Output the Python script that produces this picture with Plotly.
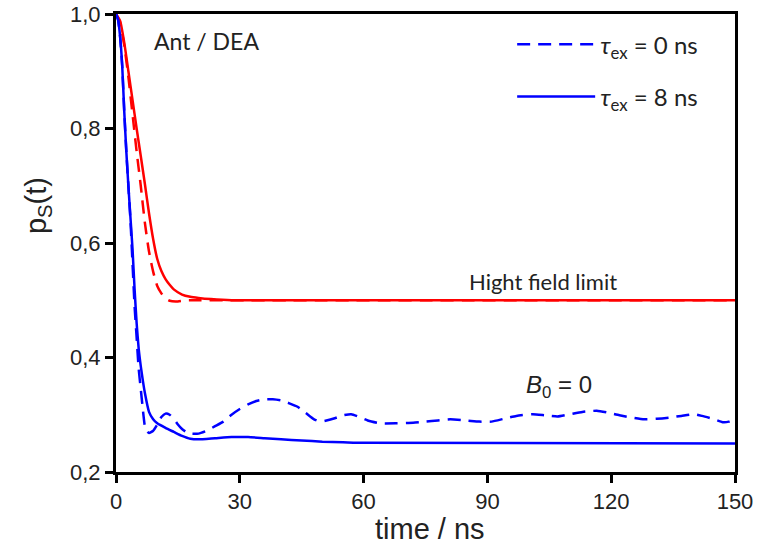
import plotly.graph_objects as go

# ---- data ----
t_red_solid = [0, 1, 2, 3, 4, 5, 6, 7, 8, 9, 10, 11, 12, 13, 14, 16, 18, 20, 23, 28, 150]
p_red_solid = [1.0, 0.988, 0.95, 0.9, 0.85, 0.8, 0.752, 0.703, 0.652, 0.607, 0.572, 0.551, 0.537, 0.527, 0.519, 0.51, 0.506, 0.504, 0.502, 0.5, 0.5]

t_red_dash = [0, 1, 2, 3, 4, 5, 6, 7, 8, 9, 10, 11, 12, 13, 15, 17, 20, 150]
p_red_dash = [1.0, 0.985, 0.945, 0.89, 0.825, 0.76, 0.7, 0.635, 0.585, 0.55, 0.525, 0.512, 0.503, 0.499, 0.498, 0.5, 0.5, 0.5]

t_blue_solid = [0, 0.5, 1, 1.5, 2, 2.5, 3, 3.5, 4, 4.5, 5, 5.5, 6, 6.5, 7, 8, 9, 10, 12, 14, 16, 18, 20,
                24, 28, 32, 36, 40, 45, 50, 55, 60, 150]
p_blue_solid = [1.0, 0.99, 0.96, 0.91, 0.83, 0.76, 0.70, 0.645, 0.59, 0.52, 0.46, 0.415, 0.385, 0.36, 0.338,
                0.305, 0.292, 0.285, 0.277, 0.27, 0.263, 0.258, 0.257, 0.259, 0.261, 0.261, 0.259, 0.257,
                0.255, 0.253, 0.252, 0.251, 0.25]

t_blue_dash = [0, 0.5, 1, 1.5, 2, 2.5, 3, 3.5, 4, 4.5, 5, 5.5, 6, 6.5, 7, 7.5, 8, 9, 10, 11, 12, 13, 14, 15,
               16, 17, 18, 20, 22, 24, 26, 28, 30, 32, 34, 36, 38, 40, 42, 44, 46, 48, 49.5, 51, 53, 55,
               57, 59, 61, 64, 68, 72, 75, 78, 81, 85, 88, 91, 94, 97, 101, 104, 107, 110, 113, 116.5,
               119, 122, 125, 128, 131, 134, 137, 140, 142, 145, 147, 148.5, 150]
p_blue_dash = [1.0, 0.99, 0.96, 0.91, 0.83, 0.76, 0.70, 0.64, 0.565, 0.49, 0.435, 0.38, 0.345, 0.31, 0.28,
               0.271, 0.268, 0.272, 0.283, 0.296, 0.302, 0.3, 0.293, 0.283, 0.275, 0.27, 0.267, 0.267,
               0.272, 0.28, 0.288, 0.3, 0.31, 0.318, 0.324, 0.327, 0.327, 0.325, 0.32, 0.314, 0.303,
               0.292, 0.288, 0.29, 0.294, 0.299, 0.301, 0.296, 0.29, 0.285, 0.285, 0.286, 0.288, 0.29,
               0.292, 0.29, 0.288, 0.288, 0.293, 0.298, 0.301, 0.299, 0.297, 0.301, 0.305, 0.307, 0.304,
               0.299, 0.295, 0.292, 0.293, 0.295, 0.298, 0.301, 0.298, 0.292, 0.287, 0.288, 0.293]

x_ticks = [0, 30, 60, 90, 120, 150]
y_ticks = [0.2, 0.4, 0.6, 0.8, 1.0]
y_tick_text = ["0,2", "0,4", "0,6", "0,8", "1,0"]

RED = "#ff0000"
BLUE = "#0000ff"
DASH = "13px,8px"
LW = 2.5
SM = 0.5

fig = go.Figure()
fig.add_trace(go.Scatter(x=t_red_dash, y=p_red_dash, mode="lines", showlegend=False,
                         line=dict(color=RED, width=LW, dash=DASH, shape="spline", smoothing=SM)))
fig.add_trace(go.Scatter(x=t_red_solid, y=p_red_solid, mode="lines", showlegend=False,
                         line=dict(color=RED, width=LW, shape="spline", smoothing=SM)))
fig.add_trace(go.Scatter(x=t_blue_dash, y=p_blue_dash, mode="lines", legendgroup="a",
                         name="<i>τ</i><sub>ex</sub> = 0 ns",
                         line=dict(color=BLUE, width=LW, dash=DASH, shape="spline", smoothing=SM)))
fig.add_trace(go.Scatter(x=t_blue_solid, y=p_blue_solid, mode="lines", legendgroup="b",
                         name="<i>τ</i><sub>ex</sub> = 8 ns",
                         line=dict(color=BLUE, width=LW, shape="spline", smoothing=SM)))

SANS = "Liberation Sans, Arial, sans-serif"
TICKFONT = dict(family=SANS, size=22, color="#222")
TEXTFONT = dict(family="Lato, Open Sans, sans-serif", size=23, color="#222")

fig.update_layout(
    width=759, height=553,
    margin=dict(l=116, r=24, t=14, b=81),
    paper_bgcolor="white", plot_bgcolor="white",
    showlegend=True,
    legend=dict(x=0.64, y=0.982, xanchor="left", yanchor="top",
                bgcolor="rgba(0,0,0,0)", font=dict(family="Lato, Open Sans, sans-serif", size=24, color="#222"),
                itemwidth=78, tracegroupgap=18),
    xaxis=dict(range=[0, 150], tickvals=x_ticks, ticks="outside", ticklen=8, tickwidth=2.5,
               tickcolor="black", showline=True, linewidth=3, linecolor="black", mirror=True,
               showgrid=False, zeroline=False, tickfont=TICKFONT, automargin=False),
    yaxis=dict(range=[0.2, 1.0], tickvals=y_ticks, ticktext=y_tick_text, ticks="outside", ticklen=8,
               tickwidth=2.5, tickcolor="black", showline=True, linewidth=3, linecolor="black", mirror=True,
               showgrid=False, zeroline=False, tickfont=TICKFONT, automargin=False),
    annotations=[
        dict(x=0.508, y=-0.124, xref="paper", yref="paper", xanchor="center", yanchor="middle",
             text="time / ns", showarrow=False, font=dict(family=SANS, size=29, color="#222")),
        dict(x=-0.125, y=0.582, xref="paper", yref="paper", xanchor="center", yanchor="middle",
             textangle=-90, text="p<sub>S</sub>(t)", showarrow=False,
             font=dict(family=SANS, size=29, color="#222")),
        dict(x=22, y=0.953, xref="x", yref="y", text="Ant / DEA", showarrow=False, font=TEXTFONT),
        dict(x=103.5, y=0.532, xref="x", yref="y", text="Hight field limit", showarrow=False,
             font=dict(family="Lato, Open Sans, sans-serif", size=22, color="#222")),
        dict(x=107.3, y=0.35, xref="x", yref="y", text="<i>B</i><sub>0</sub> = 0", showarrow=False,
             font=dict(family=SANS, size=24, color="#222")),
    ],
)

fig.write_html("out.html")
